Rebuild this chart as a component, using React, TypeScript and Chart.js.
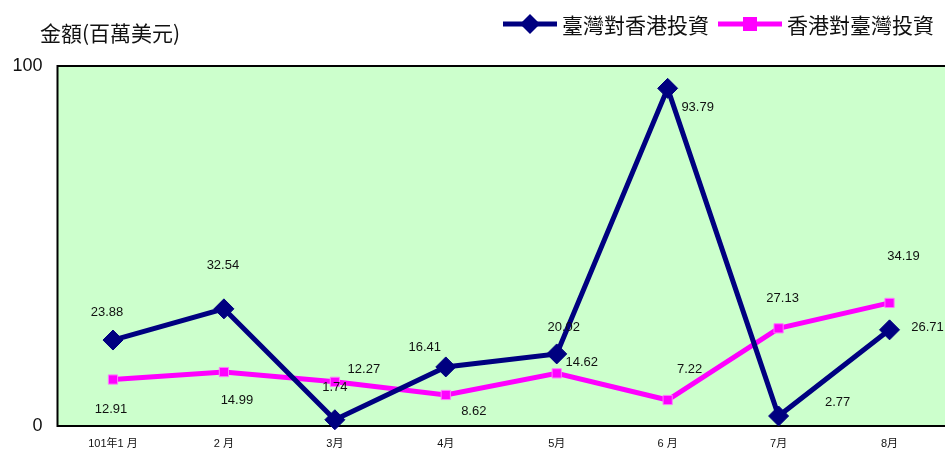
import React, { useEffect, useRef } from "react";
import { Chart, registerables } from "chart.js";

Chart.register(...registerables);

const categories = ["101年1 月", "2 月", "3月", "4月", "5月", "6 月", "7月", "8月"];
const twToHk = [23.88, 32.54, 1.74, 16.41, 20.02, 93.79, 2.77, 26.71];
const hkToTw = [12.91, 14.99, 12.27, 8.62, 14.62, 7.22, 27.13, 34.19];
const seriesNames = ["臺灣對香港投資", "香港對臺灣投資"];
const yTitle = "金額(百萬美元)";
const yTicks = [0, 100];

const NAVY = "#000080";
const MAGENTA = "#FF00FF";

// label offsets (dx, dy) relative to each point, per series
const labelOffsets = [
  [[-6, -28], [-1, -43], [0, -32], [-21, -20], [7, -27], [30, 19], [59, -14], [38, -2]],
  [[-2, 30], [13, 28], [29, -12], [28, 16], [25, -11], [22, -31], [4, -30], [14, -46]],
];

const TEXT_FONT = '"Liberation Sans", Arial, "Noto Sans CJK TC", sans-serif';
const W = 945;
const H = 450;

const decorPlugin = {
  id: "decor",
  beforeDatasetsDraw(chart: any) {
    const { ctx, chartArea } = chart;
    const { left, top, right, bottom } = chartArea;
    ctx.save();
    ctx.fillStyle = "#CCFFCC";
    ctx.fillRect(left, top, right - left, bottom - top);
    ctx.strokeStyle = "#000000";
    ctx.lineWidth = 2;
    ctx.strokeRect(left, top, right - left + 3, bottom - top);
    ctx.restore();
  },
  afterDatasetsDraw(chart: any) {
    const { ctx, chartArea } = chart;
    ctx.save();
    ctx.fillStyle = "#111111";
    ctx.textAlign = "center";
    ctx.textBaseline = "middle";

    // x category labels
    ctx.font = `11px ${TEXT_FONT}`;
    const xs = chart.scales.x;
    categories.forEach((c, i) => {
      ctx.fillText(c, xs.getPixelForTick(i), chartArea.bottom + 18);
    });

    // data labels
    ctx.font = `13px ${TEXT_FONT}`;
    chart.data.datasets.forEach((ds: any, di: number) => {
      const meta = chart.getDatasetMeta(di);
      meta.data.forEach((pt: any, i: number) => {
        const [dx, dy] = labelOffsets[di][i];
        ctx.fillText(ds.data[i].toFixed(2), pt.x + dx, pt.y + dy);
      });
    });

    // y-axis title
    ctx.textAlign = "left";
    ctx.font = `21px "Noto Sans CJK TC", sans-serif`;
    ctx.fillStyle = "#111111";
    ctx.fillText(yTitle, 40, 33);

    // legend
    const drawEntry = (x1: number, x2: number, color: string, style: string, text: string, tx: number) => {
      const y = 24;
      ctx.strokeStyle = color;
      ctx.lineWidth = 5;
      ctx.beginPath();
      ctx.moveTo(x1, y);
      ctx.lineTo(x2, y);
      ctx.stroke();
      const cx = (x1 + x2) / 2;
      ctx.fillStyle = color;
      ctx.beginPath();
      if (style === "diamond") {
        ctx.moveTo(cx, y - 10);
        ctx.lineTo(cx + 10, y);
        ctx.lineTo(cx, y + 10);
        ctx.lineTo(cx - 10, y);
        ctx.closePath();
      } else {
        ctx.rect(cx - 7, y - 7, 14, 14);
      }
      ctx.fill();
      ctx.fillStyle = "#111111";
      ctx.textAlign = "left";
      ctx.font = `21px "Noto Sans CJK TC", sans-serif`;
      ctx.fillText(text, tx, y + 1);
    };
    drawEntry(503, 557, NAVY, "diamond", seriesNames[0], 562);
    drawEntry(718, 782, MAGENTA, "square", seriesNames[1], 787);
    ctx.restore();
  },
};

export default function App() {
  const ref = useRef<HTMLCanvasElement | null>(null);
  useEffect(() => {
    if (!ref.current) return;
    const chart = new Chart(ref.current, {
      type: "line",
      data: {
        labels: categories,
        datasets: [
          {
            label: seriesNames[0],
            data: twToHk,
            borderColor: NAVY,
            backgroundColor: NAVY,
            borderWidth: 5,
            pointStyle: "rectRot",
            pointRadius: 10,
            pointBorderWidth: 1,
            pointBackgroundColor: NAVY,
            pointBorderColor: NAVY,
            clip: false,
            tension: 0,
          },
          {
            label: seriesNames[1],
            data: hkToTw,
            borderColor: MAGENTA,
            backgroundColor: MAGENTA,
            borderWidth: 5,
            pointStyle: "rect",
            pointRadius: 6.5,
            pointBorderWidth: 1,
            pointBackgroundColor: MAGENTA,
            pointBorderColor: "#FF77FF",
            clip: false,
            tension: 0,
          },
        ],
      },
      options: {
        animation: false,
        responsive: false,
        maintainAspectRatio: false,
        layout: { autoPadding: false, padding: { top: 66, right: -1, left: 0, bottom: 0 } },
        plugins: { legend: { display: false }, tooltip: { enabled: false } },
        scales: {
          x: {
            offset: true,
            grid: { display: false, drawTicks: false },
            border: { display: false },
            ticks: { display: false, autoSkip: false },
            afterFit: (s: any) => {
              s.height = 24;
              s.paddingLeft = 0;
              s.paddingRight = 0;
            },
          },
          y: {
            min: 0,
            max: 100,
            afterBuildTicks: (s: any) => {
              s.ticks = yTicks.map((v) => ({ value: v }));
            },
            grid: { display: false, drawTicks: false },
            border: { display: false },
            ticks: {
              padding: 15,
              color: "#111111",
              font: { size: 18, family: TEXT_FONT },
            },
            afterFit: (s: any) => {
              s.width = 57.5;
              s.paddingTop = 0;
              s.paddingBottom = 0;
            },
          },
        },
      },
      plugins: [decorPlugin],
    });
    return () => chart.destroy();
  }, []);
  return (
    <div style={{ position: "absolute", left: 0, top: 0, width: W, height: H, overflow: "hidden", background: "#ffffff" }}>
      <canvas ref={ref} width={W} height={H} style={{ width: W, height: H, display: "block" }} />
    </div>
  );
}
